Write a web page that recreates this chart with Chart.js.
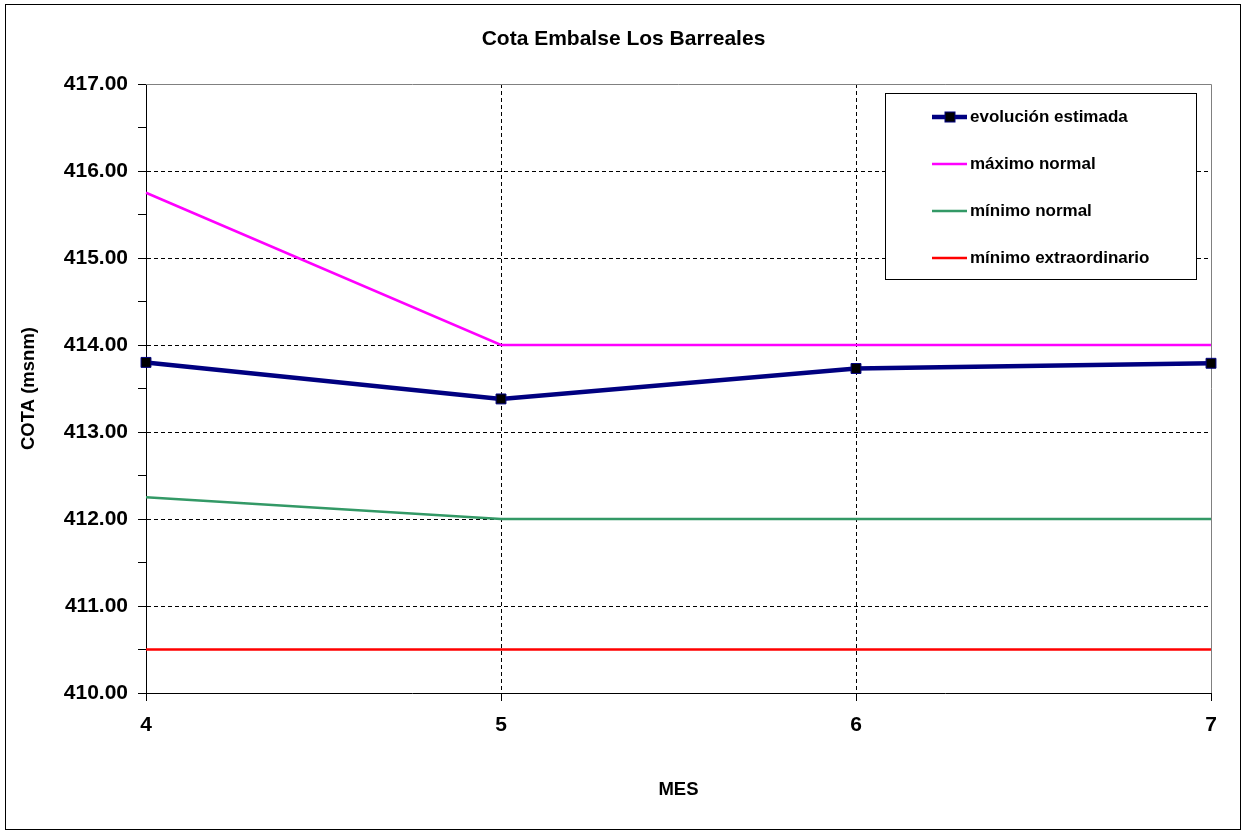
<!DOCTYPE html>
<html>
<head>
<meta charset="utf-8">
<script src="https://cdn.jsdelivr.net/npm/chart.js@4.4.0/dist/chart.umd.min.js"></script>
<style>
  html, body { margin: 0; padding: 0; background: #fff; }
  #wrap { width: 1247px; height: 834px; }
</style>
</head>
<body>
<div id="wrap"><canvas id="chart" width="1247" height="834"></canvas></div>
<script>
// ── COTA EMBALSE ──

const FONT = "'Liberation Sans', Arial, Helvetica, sans-serif";

const MONTHS        = ['4', '5', '6', '7'];
const EVOLUCION     = [413.80, 413.38, 413.73, 413.79];
const MAXIMO_NORMAL = [415.75, 414.00, 414.00, 414.00];
const MINIMO_NORMAL = [412.25, 412.00, 412.00, 412.00];
const MINIMO_EXTRA  = [410.50, 410.50, 410.50, 410.50];

const Y_MIN = 410;
const Y_MAX = 417;
const CLEAR = 'rgba(0,0,0,0)';

// gray plot border (top/right) + outer frame
const framePlugin = {
  id: 'frame',
  beforeDraw(chart) {
    const { ctx, width, height } = chart;
    ctx.save();
    ctx.fillStyle = '#fff';
    ctx.fillRect(0, 0, width, height);
    ctx.restore();
  },
  beforeDatasetsDraw(chart) {
    const { ctx, chartArea: { left, right, top, bottom } } = chart;
    ctx.save();
    ctx.strokeStyle = '#808080';
    ctx.lineWidth = 1;
    ctx.beginPath();
    ctx.moveTo(left, Math.round(top) + 0.5);
    ctx.lineTo(Math.round(right) + 0.5, Math.round(top) + 0.5);
    ctx.lineTo(Math.round(right) + 0.5, bottom);
    ctx.stroke();
    ctx.restore();
  },
  afterDraw(chart) {
    const { ctx } = chart;
    ctx.save();
    ctx.strokeStyle = '#000';
    ctx.lineWidth = 1;
    ctx.strokeRect(5.5, 4.5, 1235, 825);
    ctx.restore();
  }
};

// legend box inside the plot area
const boxLegendPlugin = {
  id: 'boxLegend',
  afterDraw(chart) {
    const { ctx, chartArea } = chart;
    const x0 = Math.round(chartArea.right) - 326;
    const y0 = Math.round(chartArea.top) + 9;
    ctx.save();
    ctx.fillStyle = '#fff';
    ctx.fillRect(x0, y0, 311, 186);
    ctx.strokeStyle = '#000';
    ctx.lineWidth = 1;
    ctx.strokeRect(x0 + 0.5, y0 + 0.5, 311, 186);

    ctx.font = `bold 17px ${FONT}`;
    ctx.textBaseline = 'middle';
    ctx.textAlign = 'left';
    chart.data.datasets.forEach((ds, i) => {
      const y = y0 + 24 + i * 47;
      ctx.strokeStyle = ds.borderColor;
      ctx.lineWidth = ds.borderWidth;
      ctx.beginPath();
      ctx.moveTo(x0 + 47, y);
      ctx.lineTo(x0 + 82, y);
      ctx.stroke();
      if (ds.pointRadius > 0) {
        ctx.fillStyle = ds.pointBackgroundColor;
        ctx.strokeStyle = ds.pointBorderColor;
        ctx.lineWidth = 1;
        ctx.fillRect(x0 + 60, y - 5, 10, 10);
        ctx.strokeRect(x0 + 60, y - 5, 10, 10);
      }
      ctx.fillStyle = '#000';
      ctx.fillText(ds.label, x0 + 85, y);
    });
    ctx.restore();
  }
};

new Chart(document.getElementById('chart'), {
  type: 'line',
  data: {
    labels: MONTHS,
    datasets: [
      {
        label: 'evolución estimada',
        data: EVOLUCION,
        borderColor: '#000080',
        borderWidth: 4.5,
        pointStyle: 'rect',
        pointRadius: 7,
        pointBackgroundColor: '#000',
        pointBorderColor: '#000080',
        pointBorderWidth: 1,
        tension: 0,
        clip: false
      },
      {
        label: 'máximo normal',
        data: MAXIMO_NORMAL,
        borderColor: '#FF00FF',
        borderWidth: 2.5,
        pointRadius: 0,
        tension: 0
      },
      {
        label: 'mínimo normal',
        data: MINIMO_NORMAL,
        borderColor: '#339966',
        borderWidth: 2.5,
        pointRadius: 0,
        tension: 0
      },
      {
        label: 'mínimo extraordinario',
        data: MINIMO_EXTRA,
        borderColor: '#FF0000',
        borderWidth: 2.5,
        pointRadius: 0,
        tension: 0
      }
    ]
  },
  options: {
    responsive: false,
    animation: false,
    events: [],
    layout: { padding: { left: 6, right: 6, top: 0, bottom: 0 } },
    plugins: {
      legend: { display: false },
      tooltip: { enabled: false },
      title: {
        display: true,
        text: 'Cota Embalse Los Barreales',
        font: { family: FONT, size: 21, weight: 'bold' },
        color: '#000',
        padding: { top: 26.4, bottom: 32.4 }
      }
    },
    scales: {
      x: {
        ticks: {
          font: { family: FONT, size: 21, weight: 'bold' },
          color: '#000',
          padding: 12,
          maxRotation: 0
        },
        grid: {
          color: c => (c.index === 0 || c.index === MONTHS.length - 1) ? CLEAR : '#000',
          tickColor: '#000',
          tickLength: 8,
          lineWidth: 1
        },
        border: { display: true, color: '#000', width: 1, dash: [4, 3] },
        title: {
          display: true,
          text: 'MES',
          font: { family: FONT, size: 18.5, weight: 'bold' },
          color: '#000',
          padding: { top: 0, bottom: 33 }
        },
        afterFit(scale) { scale.height = 141; }
      },
      y: {
        min: Y_MIN,
        max: Y_MAX,
        ticks: {
          stepSize: 0.5,
          maxTicksLimit: 20,
          autoSkip: false,
          font: { family: FONT, size: 21, weight: 'bold' },
          color: '#000',
          padding: 10,
          callback: v => (v % 1 === 0 ? v.toFixed(2) : '')
        },
        grid: {
          color: c => {
            const v = c.tick.value;
            return (v % 1 !== 0 || v === Y_MIN || v === Y_MAX) ? CLEAR : '#000';
          },
          tickColor: '#000',
          tickLength: 8,
          lineWidth: 1
        },
        border: { display: true, color: '#000', width: 1, dash: [4, 3] },
        title: {
          display: true,
          text: 'COTA (msnm)',
          font: { family: FONT, size: 18.5, weight: 'bold' },
          color: '#000',
          padding: { top: 12, bottom: 0 }
        },
        afterFit(scale) { scale.width = 140; }
      },
      // empty right-hand margin so the title centres on the whole frame
      yPad: {
        position: 'right',
        min: Y_MIN,
        max: Y_MAX,
        ticks: { display: false },
        grid: { drawOnChartArea: false, drawTicks: false },
        border: { display: false },
        afterFit(scale) { scale.width = 30; }
      }
    }
  },
  plugins: [framePlugin, boxLegendPlugin]
});
</script>
</body>
</html>
